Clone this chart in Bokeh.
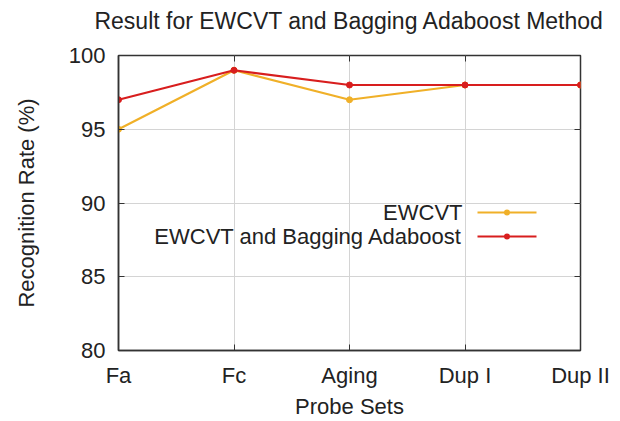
from bokeh.plotting import figure
from bokeh.models import FixedTicker, Range1d, Label, Arrow, BoxAnnotation, LinearAxis
from bokeh.embed import file_html
from bokeh.resources import INLINE

categories = ["Fa", "Fc", "Aging", "Dup I", "Dup II"]
ewcvt = [95, 99, 97, 98, 98]
ewcvt_bagging = [97, 99, 98, 98, 98]
y_ticks = [80, 85, 90, 95, 100]
series_names = ["EWCVT", "EWCVT and Bagging Adaboost"]
title_text = "Result for EWCVT and Bagging Adaboost Method"
colors = ["#f0b028", "#d81e1e"]

xs = list(range(len(categories)))
FONT = "Liberation Sans"
FS = "22px"

p = figure(width=620, height=421, output_backend="svg", toolbar_location=None,
           x_range=Range1d(0, len(categories) - 1), y_range=Range1d(80, 100),
           min_border_left=118, min_border_right=40, min_border_top=54,
           min_border_bottom=70)

p.title.text = title_text
p.title.align = "center"
p.title.text_font = FONT
p.title.text_font_size = "23px"
p.title.text_font_style = "normal"
p.title.text_color = "#222222"
p.title.standoff = 10

p.outline_line_color = "#333333"
p.outline_line_width = 1.5
p.background_fill_color = "white"
p.border_fill_color = "white"

p.xaxis.ticker = FixedTicker(ticks=xs)
p.xaxis.major_label_overrides = {i: c for i, c in enumerate(categories)}
p.yaxis.ticker = FixedTicker(ticks=y_ticks)
for ax in (p.xaxis[0], p.yaxis[0]):
    ax.major_tick_in = 6
    ax.major_tick_out = 0
    ax.minor_tick_line_color = None
    ax.major_tick_line_color = "#333333"
    ax.axis_line_color = "#333333"
    ax.axis_line_width = 1.5
    ax.major_label_text_font = FONT
    ax.major_label_text_font_size = FS
    ax.major_label_text_color = "#222222"
    ax.axis_label_text_font = FONT
    ax.axis_label_text_font_size = FS
    ax.axis_label_text_font_style = "normal"
    ax.axis_label_text_color = "#222222"

p.xaxis.axis_label = "Probe Sets"
p.yaxis.axis_label = "Recognition Rate (%)"
p.xaxis.major_label_standoff = 12
p.xaxis.axis_label_standoff = 3
p.yaxis.major_label_standoff = 13
p.yaxis.axis_label_standoff = 27

# gnuplot mirror ticks on the top and right borders (labels not drawn)
for side, ticks in (("above", xs), ("right", y_ticks)):
    mirror = LinearAxis(ticker=FixedTicker(ticks=ticks), major_tick_in=6,
                        major_tick_out=0, minor_tick_line_color=None,
                        major_tick_line_color="#333333", axis_line_color=None,
                        major_label_text_color=None, major_label_text_font_size="10px",
                        major_label_standoff=5)
    p.add_layout(mirror, side)

# invisible spacer between the frame and the title
spacer = LinearAxis(ticker=FixedTicker(ticks=xs), major_tick_in=0, major_tick_out=17,
                    minor_tick_line_color=None, major_tick_line_color=None,
                    axis_line_color=None, major_label_text_color=None,
                    major_label_text_font_size="10px", major_label_standoff=0)
p.add_layout(spacer, "above")

p.xgrid.ticker = FixedTicker(ticks=xs)
p.ygrid.ticker = FixedTicker(ticks=y_ticks)
p.grid.grid_line_color = "#d4d4d4"
p.grid.grid_line_width = 1

for vals, col in zip([ewcvt, ewcvt_bagging], colors):
    p.line(xs, vals, line_color=col, line_width=2.2)
    p.scatter(xs, vals, fill_color=col, line_color=col, size=6)

# gnuplot-style key: text right-aligned, sample to its right
key_rows = [138, 114]
for name, col, yy in zip(series_names, colors, key_rows):
    p.add_layout(Label(x=344, y=yy, x_units="screen", y_units="screen", text=name,
                       text_align="right", text_baseline="middle",
                       text_font=FONT, text_font_size=FS, text_color="#222222"))
    p.add_layout(Arrow(x_start=359, y_start=yy, x_end=418, y_end=yy,
                       start_units="screen", end_units="screen", end=None,
                       line_color=col, line_width=2.2))
    p.add_layout(BoxAnnotation(left=385.5, right=391.5, bottom=yy - 3, top=yy + 3,
                               left_units="screen", right_units="screen",
                               bottom_units="screen", top_units="screen",
                               fill_color=col, fill_alpha=1, line_color=None,
                               border_radius=3))

open("out.html", "w").write(file_html(p, INLINE))
